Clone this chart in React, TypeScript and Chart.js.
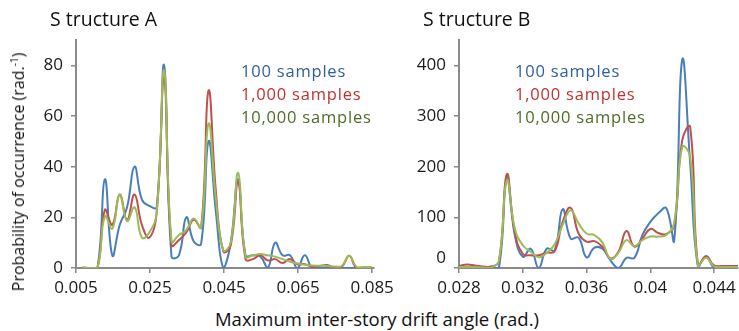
import React, { useEffect, useRef } from 'react';
import { Chart, registerables } from 'chart.js';

Chart.register(...registerables);

const FONT = '"Open Sans", "DejaVu Sans", sans-serif';

const seriesLabels = ['100 samples', '1,000 samples', '10,000 samples'];
const seriesColors = ['#4A7EBB', '#C0504D', '#9BBB59'];
const legendColors = ['#2F5E9E', '#C4302B', '#4F6B28'];

// ---------- Structure A ----------
const xA = [
  0.0068, 0.0088, 0.0108, 0.0128, 0.0148, 0.0168, 0.0188, 0.0208, 0.0228, 0.0248,
  0.0268, 0.0288, 0.0308, 0.0328, 0.0348, 0.0368, 0.0388, 0.0408, 0.0428, 0.0448,
  0.0468, 0.0488, 0.0508, 0.0528, 0.0548, 0.0568, 0.0588, 0.0608, 0.0628, 0.0648,
  0.0668, 0.0688, 0.0708, 0.0728, 0.0748, 0.0768, 0.0788, 0.0808, 0.0828, 0.0848,
];
const a100 = [
  0, 0, 0, 35, 5, 17, 24, 40, 27, 24.5,
  24, 80, 4.5, 5, 20, 10.5, 9.5, 50, 22, 0,
  10, 35, 5, 5, 4.5, 0, 10, 5, 5, 0,
  5, 0, 0, 0, 0, 0, 0, 0, 0, 0,
];
const a1000 = [
  0.2, 0, 0, 23, 17, 29, 19, 29, 17, 12,
  22, 75, 9, 11, 14, 19, 16, 70, 30, 6.5,
  9, 34, 3.5, 3.5, 5, 3, 3.5, 2, 3.5, 1.5,
  1.5, 0.5, 0.8, 1.2, 0.3, 0.5, 4.8, -0.2, 0.3, 0.4,
];
const a10000 = [
  0.2, 0, 0, 20.5, 15.5, 29, 18.5, 24, 12, 14,
  22, 78, 10.5, 13, 15, 19.5, 16, 57, 27, 7,
  10, 37.5, 4.5, 5, 5.5, 5, 4.5, 3.5, 2.5, 1.8,
  1.3, 1.0, 0.9, 0.8, 0.6, 0.8, 4.8, 0.4, 0.4, 0.4,
];
const xTicksA = [0.005, 0.025, 0.045, 0.065, 0.085];
const xTickLabelsA = ['0.005', '0.025', '0.045', '0.065', '0.085'];
const yTicksA = [0, 20, 40, 60, 80];
const yTickLabelsA = ['0', '20', '40', '60', '80'];

// ---------- Structure B ----------
const xB = [
  0.028, 0.0285, 0.029, 0.0295, 0.03, 0.0305, 0.031, 0.0315, 0.032, 0.0325,
  0.033, 0.0335, 0.034, 0.0345, 0.035, 0.0355, 0.036, 0.0365, 0.037, 0.0375,
  0.038, 0.0385, 0.039, 0.0395, 0.04, 0.0405, 0.041, 0.0415, 0.042, 0.0425,
  0.043, 0.0435, 0.044, 0.0445, 0.045, 0.0455,
];
const b100 = [
  0, 0, 0, 0, 0, 0, 176, 65, 22, 38,
  0, 38, 35, 116, 58, 60, 21, 40, 38, 15,
  0, 20, 20, 65, 91, 108, 118, 55, 411, 207,
  0, 23, 0, 0, 0, 0,
];
const b1000 = [
  4, 7, 5, 3, 3, 12, 185, 70, 28, 25,
  25, 30, 33, 91, 119, 68, 52, 53, 42, 19,
  32, 73, 42, 58, 77, 69, 67, 85, 252, 278,
  3, 23, 5, 4, 4, 4,
];
const b10000 = [
  2, 2, 2, 1, 1, 14, 173, 78, 45, 32,
  21, 30, 47, 85, 114, 88, 68, 65, 50, 18,
  30, 55, 43, 55, 62, 62, 65, 90, 239, 220,
  3, 20, 3, 2, 2, 2,
];
const xTicksB = [0.028, 0.032, 0.036, 0.04, 0.044];
const xTickLabelsB = ['0.028', '0.032', '0.036', '0.04', '0.044'];
const yTicksB = [0, 100, 200, 300, 400];
const yTickLabelsB = ['0', '100', '200', '300', '400'];

const AXIS = '#8A8A8A';
const TICK_FONT = { family: FONT, size: 17 };

function buildConfig(
  xs: number[],
  series: number[][],
  xMin: number,
  xMax: number,
  xTicks: number[],
  xTickLabels: string[],
  yMax: number,
  yTicks: number[],
  yTickLabels: string[],
  yWidth: number,
  padRight: number,
  liftZero: boolean
): any {
  const orders = [2, 1, 0];
  return {
    type: 'line',
    data: {
      datasets: series.map((vals, i) => ({
        label: seriesLabels[i],
        data: xs.map((x, j) => ({ x, y: vals[j] })),
        borderColor: seriesColors[i],
        backgroundColor: seriesColors[i],
        borderWidth: 2,
        pointRadius: 0,
        tension: 0.45,
        fill: false,
        order: orders[i],
      })),
    },
    options: {
      animation: false,
      responsive: false,
      maintainAspectRatio: false,
      events: [],
      layout: { padding: { top: 40, right: padRight, left: 0, bottom: 0 } },
      plugins: {
        legend: { display: false },
        tooltip: { enabled: false },
        title: { display: false },
      },
      scales: {
        x: {
          type: 'linear',
          min: xMin,
          max: xMax,
          afterBuildTicks: (s: any) => {
            s.ticks = xTicks.map((v) => ({ value: v }));
          },
          afterFit: (s: any) => {
            s.height = 32;
            s.paddingLeft = 0;
            s.paddingRight = 0;
          },
          ticks: {
            autoSkip: false,
            maxRotation: 0,
            minRotation: 0,
            padding: 5,
            color: '#1a1a1a',
            font: TICK_FONT,
            callback: (v: number) => {
              const idx = xTicks.findIndex((t) => Math.abs(t - v) < 1e-9);
              return idx >= 0 ? xTickLabels[idx] : '';
            },
          },
          grid: {
            display: true,
            drawOnChartArea: false,
            drawTicks: true,
            tickLength: 5,
            color: AXIS,
            lineWidth: 1.5,
          },
          border: { display: true, color: AXIS, width: 2 },
        },
        y: {
          type: 'linear',
          min: 0,
          max: yMax,
          afterBuildTicks: (s: any) => {
            s.ticks = yTicks.map((v) => ({ value: v }));
          },
          afterFit: (s: any) => {
            s.width = yWidth;
            s.paddingTop = 0;
            s.paddingBottom = 0;
          },
          ticks: {
            padding: 8,
            color: '#1a1a1a',
            font: TICK_FONT,
            callback: (v: number) => {
              const idx = yTicks.findIndex((t) => Math.abs(t - v) < 1e-9);
              if (idx < 0) return '';
              if (liftZero && v === 0) return [yTickLabels[idx], ''];
              return yTickLabels[idx];
            },
          },
          grid: {
            display: true,
            drawOnChartArea: false,
            drawTicks: true,
            tickLength: 5,
            color: AXIS,
            lineWidth: 1.5,
          },
          border: { display: true, color: AXIS, width: 2 },
        },
      },
    },
  };
}

function ChartCanvas(props: { config: any; left: number; width: number; height: number }) {
  const ref = useRef<HTMLCanvasElement | null>(null);
  useEffect(() => {
    if (!ref.current) return;
    const chart = new Chart(ref.current, props.config);
    return () => chart.destroy();
  }, []);
  return (
    <div style={{ position: 'absolute', left: props.left, top: 0, width: props.width, height: props.height }}>
      <canvas ref={ref} width={props.width} height={props.height} style={{ width: props.width, height: props.height }} />
    </div>
  );
}

function Legend(props: { left: number }) {
  return (
    <>
      {seriesLabels.map((l, i) => (
        <div
          key={l}
          style={{
            position: 'absolute',
            left: props.left,
            top: 60 + i * 23,
            fontFamily: FONT,
            fontSize: 16.5,
            letterSpacing: '0.8px',
            color: legendColors[i],
            whiteSpace: 'nowrap',
            lineHeight: '22px',
          }}
        >
          {l}
        </div>
      ))}
    </>
  );
}

export default function App() {
  const cfgA = buildConfig(xA, [a100, a1000, a10000], 0.005, 0.0855, xTicksA, xTickLabelsA, 90, yTicksA, yTickLabelsA, 76, 46, false);
  const cfgB = buildConfig(xB, [b100, b1000, b10000], 0.028, 0.0455, xTicksB, xTickLabelsB, 450, yTicksB, yTickLabelsB, 79, 1, true);
  const titleStyle: React.CSSProperties = {
    position: 'absolute',
    top: 6,
    fontFamily: FONT,
    fontSize: 19.5,
    color: '#111',
    whiteSpace: 'nowrap',
    lineHeight: '26px',
  };
  return (
    <div style={{ position: 'absolute', left: 0, top: 0, width: 739, height: 331, background: '#fff', overflow: 'hidden' }}>
      <ChartCanvas config={cfgB} left={380} width={359} height={300} />
      <ChartCanvas config={cfgA} left={0} width={420} height={300} />
      <div style={{ ...titleStyle, left: 50 }}>S tructure A</div>
      <div style={{ ...titleStyle, left: 423 }}>S tructure B</div>
      <Legend left={241} />
      <Legend left={515} />
      <div
        style={{
          position: 'absolute',
          left: 0,
          width: 754,
          top: 307,
          textAlign: 'center',
          fontFamily: FONT,
          fontSize: 18.5,
          color: '#111',
          whiteSpace: 'nowrap',
          lineHeight: '24px',
        }}
      >
        Maximum inter-story drift angle (rad.)
      </div>
      <div
        style={{
          position: 'absolute',
          left: 18,
          top: 172,
          transform: 'translate(-50%, -50%) rotate(-90deg)',
          fontFamily: FONT,
          fontSize: 16,
          color: '#111',
          whiteSpace: 'nowrap',
          lineHeight: '20px',
        }}
      >
        Probability of occurrence (rad.<sup style={{ fontSize: 10, verticalAlign: 'super', lineHeight: 0 }}>-1</sup>)
      </div>
    </div>
  );
}
